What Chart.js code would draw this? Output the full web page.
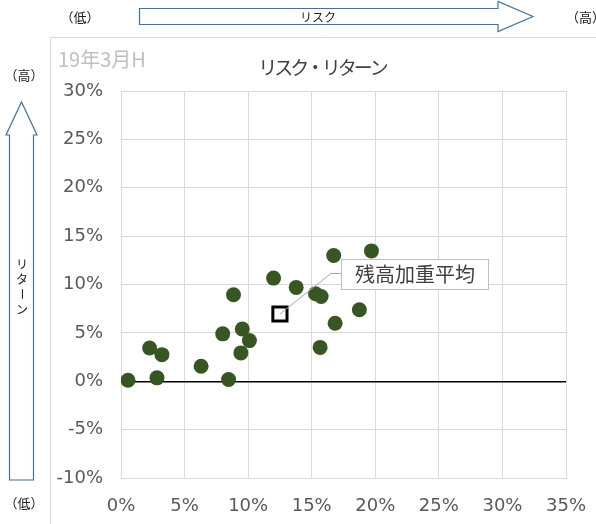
<!DOCTYPE html>
<html>
<head>
<meta charset="utf-8">
<script src="https://cdn.jsdelivr.net/npm/chart.js@4.4.1/dist/chart.umd.min.js"></script>
<style>
  body { margin: 0; background: #fff; }
</style>
</head>
<body>
<canvas id="risk-chart" width="596" height="524"></canvas>
<script>
// risk (x) and return (y) per fund, in %
const riskValues = [0.55, 2.25, 3.22, 2.83, 6.3, 8.46, 8.0, 8.85, 9.54, 10.1, 9.43, 12.0, 13.78, 15.3, 15.74, 16.73, 19.7, 18.75, 16.84, 15.66];
const returnValues = [0.1, 3.44, 2.75, 0.35, 1.55, 0.18, 4.9, 8.94, 5.4, 4.2, 2.93, 10.66, 9.7, 9.04, 8.76, 13.0, 13.47, 7.39, 6.0, 3.5];

// weighted average by balance
const avgRisk = [12.5];
const avgReturn = [6.95];
const avgLabel = "残高加重平均";

const xTicks = [0, 5, 10, 15, 20, 25, 30, 35];
const yTicks = [-10, -5, 0, 5, 10, 15, 20, 25, 30];

const chartTitle = "リスク・リターン";
const dateLabel = "19年3月H";

const jpFont = '"Noto Sans CJK JP", sans-serif';
const numFont = '"DejaVu Sans", sans-serif';

const points = riskValues.map((r, i) => ({ x: r, y: returnValues[i] }));
const avgPoints = avgRisk.map((r, i) => ({ x: r, y: avgReturn[i] }));

function drawArrowRight(c, x0, x1, headX, cy, bodyH, headH) {
  c.beginPath();
  c.moveTo(x0, cy - bodyH / 2);
  c.lineTo(headX, cy - bodyH / 2);
  c.lineTo(headX, cy - headH / 2);
  c.lineTo(x1, cy);
  c.lineTo(headX, cy + headH / 2);
  c.lineTo(headX, cy + bodyH / 2);
  c.lineTo(x0, cy + bodyH / 2);
  c.closePath();
  c.fillStyle = "#fff";
  c.fill();
  c.stroke();
}

function drawArrowUp(c, cx, y0, y1, headY, bodyW, headW) {
  c.beginPath();
  c.moveTo(cx - bodyW / 2, y0);
  c.lineTo(cx - bodyW / 2, headY);
  c.lineTo(cx - headW / 2, headY);
  c.lineTo(cx, y1);
  c.lineTo(cx + headW / 2, headY);
  c.lineTo(cx + bodyW / 2, headY);
  c.lineTo(cx + bodyW / 2, y0);
  c.closePath();
  c.fillStyle = "#fff";
  c.fill();
  c.stroke();
}

// frame, arrows and side notes
const decorPlugin = {
  id: "decor",
  beforeDraw(chart) {
    const c = chart.ctx;
    c.save();
    c.fillStyle = "#fff";
    c.fillRect(0, 0, chart.width, chart.height);

    // chart box
    c.strokeStyle = "#d9d9d9";
    c.lineWidth = 1;
    c.beginPath();
    c.moveTo(50.5, 524);
    c.lineTo(50.5, 37.5);
    c.lineTo(596, 37.5);
    c.stroke();

    // arrows
    c.strokeStyle = "#41719c";
    c.lineWidth = 1.2;
    drawArrowRight(c, 139.5, 533, 498, 16.5, 16, 30);
    drawArrowUp(c, 21.5, 480, 102, 135, 24, 31);

    c.fillStyle = "#222";
    c.font = "13px " + jpFont;
    c.textAlign = "center";
    c.textBaseline = "middle";
    c.fillText("（低）", 80, 17);
    c.font = "12px " + jpFont;
    c.fillText("リスク", 318, 17);
    c.font = "13px " + jpFont;
    c.textAlign = "left";
    c.fillText("（高）", 566, 17);
    c.textAlign = "center";
    c.fillText("（高）", 24, 75);
    c.fillText("（低）", 24, 503);

    // vertical label
    c.font = "12px " + jpFont;
    const vChars = ["リ", "タ", "ー", "ン"];
    vChars.forEach((ch, i) => {
      const cy = 264 + i * 15;
      if (ch === "ー") {
        c.save();
        c.translate(22, cy);
        c.rotate(Math.PI / 2);
        c.fillText(ch, 0, 0);
        c.restore();
      } else {
        c.fillText(ch, 22, cy);
      }
    });

    // titles
    c.fillStyle = "#bfbfbf";
    c.font = "20px " + jpFont;
    c.textAlign = "left";
    c.fillText(dateLabel, 58, 59);

    c.fillStyle = "#404040";
    c.font = "19px " + jpFont;
    c.letterSpacing = "-3px";
    c.textAlign = "center";
    c.fillText(chartTitle, 322, 68);
    c.letterSpacing = "0px";
    c.restore();
  },
  afterDatasetsDraw(chart) {
    const c = chart.ctx;
    const xs = chart.scales.x;
    const ys = chart.scales.y;
    const px = xs.getPixelForValue(avgRisk[0]);
    const py = ys.getPixelForValue(avgReturn[0]);
    c.save();
    c.strokeStyle = "#a6a6a6";
    c.lineWidth = 1;
    c.beginPath();
    c.moveTo(px, py);
    c.lineTo(px + 51, py - 40.5);
    c.lineTo(px + 61, py - 40.5);
    c.stroke();

    const bx = Math.round(px + 61) + 0.5;
    const by = Math.round(py - 55) + 0.5;
    c.fillStyle = "#fff";
    c.fillRect(bx, by, 147, 30);
    c.strokeStyle = "#bfbfbf";
    c.strokeRect(bx, by, 147, 30);
    c.fillStyle = "#404040";
    c.font = "20px " + jpFont;
    c.textAlign = "center";
    c.textBaseline = "middle";
    c.fillText(avgLabel, bx + 73.5, by + 15);
    c.restore();
  }
};

const ctx = document.getElementById("risk-chart");

new Chart(ctx, {
  type: "scatter",
  data: {
    datasets: [
      {
        label: avgLabel,
        data: avgPoints,
        pointStyle: "rect",
        pointRadius: 10,
        pointHoverRadius: 10,
        backgroundColor: "#fff",
        borderColor: "#000",
        borderWidth: 3,
        order: 0,
      },
      {
        label: "funds",
        data: points,
        pointRadius: 7.5,
        pointHoverRadius: 7.5,
        backgroundColor: "#375623",
        borderColor: "#375623",
        borderWidth: 0,
        order: 1,
      },
    ],
  },
  options: {
    responsive: false,
    animation: false,
    events: [],
    layout: {
      padding: { left: 50, top: 91, right: 30, bottom: 0 },
    },
    plugins: {
      legend: { display: false },
      tooltip: { enabled: false },
    },
    scales: {
      x: {
        type: "linear",
        min: 0,
        max: 35,
        afterBuildTicks: (s) => { s.ticks = xTicks.map((v) => ({ value: v })); },
        afterFit: (s) => {
          s.height = 46;
          s.paddingLeft = 0;
          s.paddingRight = 0;
        },
        grid: { color: "#d9d9d9", drawTicks: false },
        border: { color: "#d9d9d9" },
        ticks: {
          padding: 18,
          color: "#595959",
          font: { family: numFont, size: 18 },
          callback: (v) => v + "%",
        },
      },
      y: {
        type: "linear",
        min: -10,
        max: 30,
        afterBuildTicks: (s) => { s.ticks = yTicks.map((v) => ({ value: v })); },
        afterFit: (s) => {
          s.width = 71;
          s.paddingTop = 0;
          s.paddingBottom = 0;
        },
        grid: {
          color: (c) => (c.tick && c.tick.value === 0 ? "#000" : "#d9d9d9"),
          lineWidth: (c) => (c.tick && c.tick.value === 0 ? 1.5 : 1),
          drawTicks: false,
        },
        border: { color: "#d9d9d9" },
        ticks: {
          padding: 18,
          color: "#595959",
          font: { family: numFont, size: 18 },
          callback: (v) => v + "%",
        },
      },
    },
  },
  plugins: [decorPlugin],
});
</script>
</body>
</html>
